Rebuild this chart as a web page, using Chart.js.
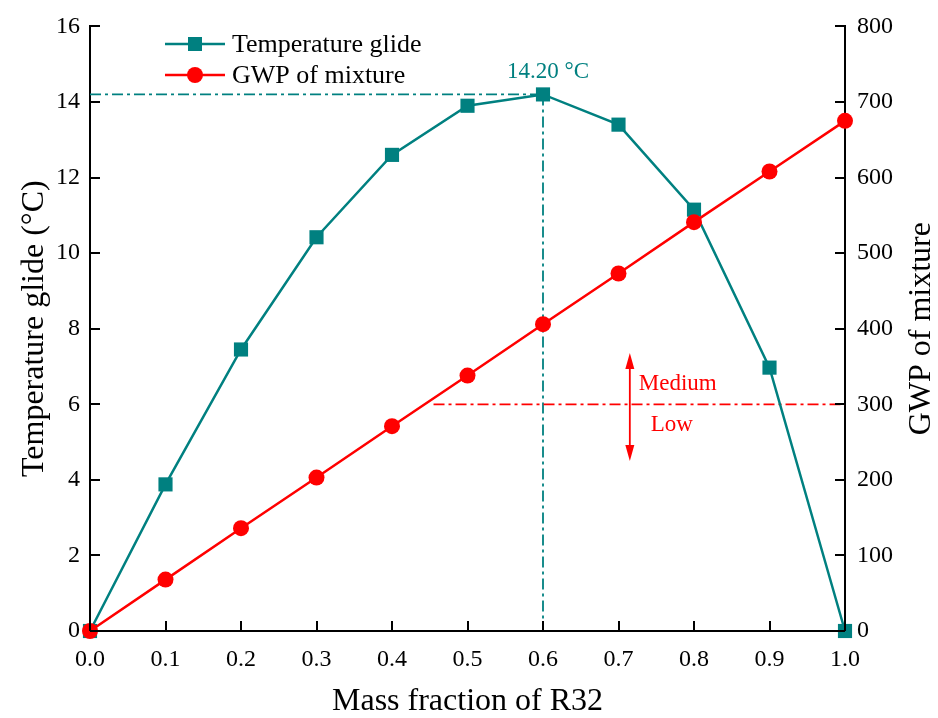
<!DOCTYPE html>
<html>
<head>
<meta charset="utf-8">
<script src="https://cdn.jsdelivr.net/npm/chart.js@4.4.0/dist/chart.umd.min.js"></script>
<style>
  html, body { margin: 0; padding: 0; background: #fff; }
  #wrap { width: 938px; height: 718px; }
</style>
</head>
<body>
<div id="wrap"><canvas id="myChart"></canvas></div>
<script>
// mass fraction of R32
var massFraction = [0.0, 0.1, 0.2, 0.3, 0.4, 0.5, 0.6, 0.7, 0.8, 0.9, 1.0];
// temperature glide (°C)
var glide = [0, 3.88, 7.45, 10.42, 12.6, 13.9, 14.2, 13.4, 11.15, 6.97, 0];
// GWP of mixture
var gwp = [0, 68, 136, 203, 271, 338, 406, 473, 541, 608, 675];

var glideMax = 14.20;
var gwpLimit = 300;
var gwpLineStart = 0.455;
var arrowX = 0.715;
var arrowTop = 368;
var arrowBottom = 225;

const teal = '#008080';
const red = '#ff0000';
const serif = '"Liberation Serif", "Times New Roman", serif';

function toPoints(ys) {
    return massFraction.map(function (x, i) { return {x: x, y: ys[i]}; });
}

const dashDot = [11, 4, 3, 4];

const extras = {
    id: 'extras',
    beforeDatasetsDraw(chart) {
        const ctx = chart.ctx;
        const xs = chart.scales.x, yl = chart.scales.y, yr = chart.scales.y2;
        ctx.save();
        // guide lines at max glide
        ctx.strokeStyle = teal;
        ctx.lineWidth = 1.8;
        ctx.setLineDash(dashDot);
        ctx.beginPath();
        ctx.moveTo(xs.left, yl.getPixelForValue(glideMax));
        ctx.lineTo(xs.getPixelForValue(0.6), yl.getPixelForValue(glideMax));
        ctx.moveTo(xs.getPixelForValue(0.6), yl.getPixelForValue(glideMax));
        ctx.lineTo(xs.getPixelForValue(0.6), yl.bottom);
        ctx.stroke();
        // GWP 300 line
        ctx.strokeStyle = red;
        ctx.beginPath();
        ctx.moveTo(xs.getPixelForValue(gwpLineStart), yr.getPixelForValue(gwpLimit));
        ctx.lineTo(xs.right, yr.getPixelForValue(gwpLimit));
        ctx.stroke();
        ctx.setLineDash([]);

        // arrow
        const ax = xs.getPixelForValue(arrowX);
        const at = yr.getPixelForValue(arrowTop), ab = yr.getPixelForValue(arrowBottom);
        ctx.lineWidth = 1.8;
        ctx.beginPath();
        ctx.moveTo(ax, at + 10);
        ctx.lineTo(ax, ab - 10);
        ctx.stroke();
        ctx.fillStyle = red;
        ctx.beginPath();
        ctx.moveTo(ax, at); ctx.lineTo(ax - 4.5, at + 16); ctx.lineTo(ax + 4.5, at + 16); ctx.closePath();
        ctx.fill();
        ctx.beginPath();
        ctx.moveTo(ax, ab); ctx.lineTo(ax - 4.5, ab - 16); ctx.lineTo(ax + 4.5, ab - 16); ctx.closePath();
        ctx.fill();

        ctx.font = '23px ' + serif;
        ctx.textBaseline = 'middle';
        ctx.textAlign = 'left';
        ctx.fillText('Medium', ax + 9, yr.getPixelForValue(gwpLimit) - 20);
        ctx.fillText('Low', ax + 21, yr.getPixelForValue(gwpLimit) + 21);

        ctx.fillStyle = teal;
        ctx.textAlign = 'center';
        ctx.fillText('14.20 °C', xs.getPixelForValue(0.6) + 5, 72);
        ctx.restore();
    },
    afterDraw(chart) {
        const ctx = chart.ctx;
        const xs = chart.scales.x, yl = chart.scales.y, yr = chart.scales.y2;
        ctx.save();
        ctx.strokeStyle = '#000';
        ctx.lineWidth = 2;
        ctx.beginPath();
        xs.ticks.forEach(function (t) {
            const px = Math.round(xs.getPixelForValue(t.value));
            ctx.moveTo(px, xs.top); ctx.lineTo(px, xs.top - 10);
        });
        yl.ticks.forEach(function (t) {
            const py = Math.round(yl.getPixelForValue(t.value));
            ctx.moveTo(yl.right, py); ctx.lineTo(yl.right + 10, py);
        });
        yr.ticks.forEach(function (t) {
            const py = Math.round(yr.getPixelForValue(t.value));
            ctx.moveTo(yr.left, py); ctx.lineTo(yr.left - 10, py);
        });
        ctx.stroke();

        // right axis title, reading bottom to top
        ctx.save();
        ctx.translate(922, (yr.top + yr.bottom) / 2);
        ctx.rotate(-Math.PI / 2);
        ctx.font = '32px ' + serif;
        ctx.fillStyle = '#000';
        ctx.textAlign = 'center';
        ctx.textBaseline = 'middle';
        ctx.fillText('GWP of mixture', 0, 0);
        ctx.restore();

        // legend
        const items = [
            {label: 'Temperature glide', color: teal, style: 'rect', y: 44},
            {label: 'GWP of mixture', color: red, style: 'circle', y: 75}
        ];
        ctx.font = '26px ' + serif;
        ctx.textBaseline = 'middle';
        ctx.textAlign = 'left';
        items.forEach(function (it) {
            ctx.strokeStyle = it.color;
            ctx.fillStyle = it.color;
            ctx.lineWidth = 2.5;
            ctx.beginPath();
            ctx.moveTo(165, it.y); ctx.lineTo(225, it.y);
            ctx.stroke();
            ctx.beginPath();
            if (it.style === 'rect') {
                ctx.rect(188, it.y - 7, 14, 14);
            } else {
                ctx.arc(195, it.y, 8, 0, Math.PI * 2);
            }
            ctx.fill();
            ctx.fillStyle = '#000';
            ctx.fillText(it.label, 232, it.y + 1);
        });
        ctx.restore();
    }
};

const config = {
    type: 'line',
    data: {
        datasets: [{
            label: 'Temperature glide',
            data: toPoints(glide),
            yAxisID: 'y',
            borderColor: teal,
            backgroundColor: teal,
            borderWidth: 2.5,
            pointStyle: 'rect',
            pointRadius: 10,
            pointHoverRadius: 10,
            pointBorderWidth: 0,
            clip: false,
            order: 2
        }, {
            label: 'GWP of mixture',
            data: toPoints(gwp),
            yAxisID: 'y2',
            borderColor: red,
            backgroundColor: red,
            borderWidth: 2.5,
            pointStyle: 'circle',
            pointRadius: 8,
            pointHoverRadius: 8,
            pointBorderWidth: 0,
            clip: false,
            order: 1
        }]
    },
    options: {
        responsive: true,
        maintainAspectRatio: false,
        animation: false,
        layout: {padding: {top: 24, left: 0, right: 0, bottom: 0}},
        plugins: {legend: {display: false}, tooltip: {enabled: false}},
        scales: {
            x: {
                type: 'linear',
                min: 0, max: 1,
                grid: {display: false, drawTicks: false},
                border: {display: true, color: '#000', width: 2},
                ticks: {
                    stepSize: 0.1, padding: 14, color: '#000',
                    font: {family: serif, size: 24},
                    callback: function (v) { return v.toFixed(1); }
                },
                title: {display: true, text: 'Mass fraction of R32', color: '#000',
                    font: {family: serif, size: 32, lineHeight: 1}, padding: {top: 0, bottom: 0}},
                afterFit: function (s) { s.height = 87; }
            },
            y: {
                position: 'left',
                min: 0, max: 16,
                grid: {display: false, drawTicks: false},
                border: {display: true, color: '#000', width: 2},
                ticks: {stepSize: 2, padding: 10, color: '#000', font: {family: serif, size: 24}},
                title: {display: true, text: 'Temperature glide (°C)', color: '#000',
                    font: {family: serif, size: 32, lineHeight: 1}, padding: {top: 19, bottom: 0}},
                afterFit: function (s) { s.width = 90; }
            },
            y2: {
                position: 'right',
                min: 0, max: 800,
                grid: {display: false, drawTicks: false},
                border: {display: true, color: '#000', width: 2},
                ticks: {stepSize: 100, padding: 12, color: '#000', font: {family: serif, size: 24}},
                title: {display: false},
                afterFit: function (s) { s.width = 93; }
            }
        }
    },
    plugins: [extras]
};

var myChart = new Chart(document.getElementById('myChart'), config);
</script>
</body>
</html>
